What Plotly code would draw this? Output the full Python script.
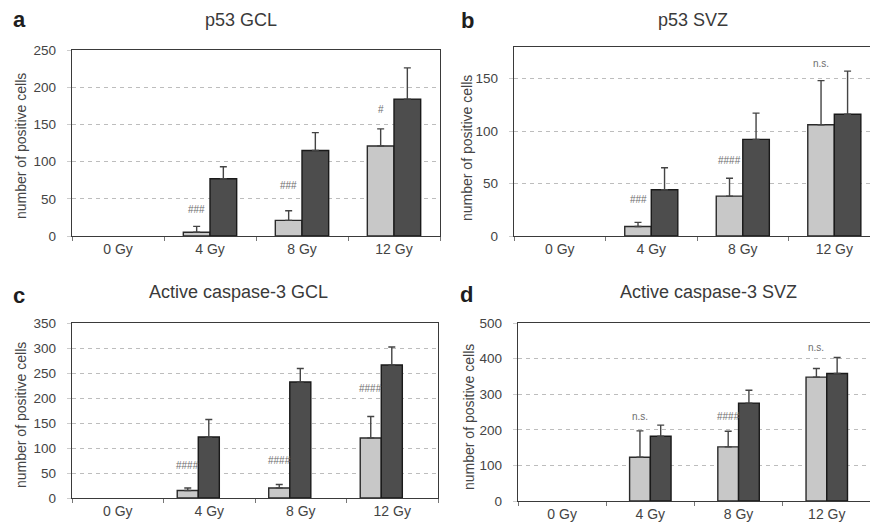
import plotly.graph_objects as go

categories = ["0 Gy", "4 Gy", "8 Gy", "12 Gy"]

# panel a: p53 GCL
a_light = [0, 5, 21, 121]
a_light_top = [0, 13, 34, 144]
a_dark = [0, 77, 115, 184]
a_dark_top = [0, 93, 139, 226]
a_marks = ["", "###", "###", "#"]
a_mark_y = [0, 35, 68, 170]

# panel b: p53 SVZ
b_light = [0, 9, 38, 106]
b_light_top = [0, 13, 55, 148]
b_dark = [0, 44, 92, 116]
b_dark_top = [0, 65, 117, 157]
b_marks = ["", "###", "####", "n.s."]
b_mark_y = [0, 35, 72, 164]

# panel c: Active caspase-3 GCL
c_light = [0, 15, 20, 120]
c_light_top = [0, 20, 27, 163]
c_dark = [0, 122, 232, 266]
c_dark_top = [0, 157, 259, 302]
c_marks = ["", "####", "####", "####"]
c_mark_y = [0, 66, 76, 220]

# panel d: Active caspase-3 SVZ
d_light = [0, 123, 152, 348]
d_light_top = [0, 197, 196, 372]
d_dark = [0, 182, 275, 358]
d_dark_top = [0, 213, 311, 403]
d_marks = ["", "n.s.", "####", "n.s."]
d_mark_y = [0, 237, 237, 432]

titles = ["p53 GCL", "p53 SVZ", "Active caspase-3 GCL", "Active caspase-3 SVZ"]
letters = ["a", "b", "c", "d"]
y_ranges = [[0, 250], [0, 180], [0, 350], [0, 500]]
y_dticks = [50, 50, 50, 100]
y_title = "number of positive cells"

W, H = 870, 530
# layout in pixels: left, right, top, bottom of plot frames
boxes = [(72, 440, 50, 236), (514, 870, 47, 236), (72, 438, 323, 498), (518, 870, 323, 501)]
x_ranges = [[-0.5, 3.5], [-0.5, 3.39], [-0.5, 3.5], [-0.5, 3.49]]
bar_width = [0.29, 0.29, 0.23, 0.235]
bar_offsets = [(-0.29, 0.0), (-0.29, 0.0), (-0.35, -0.12), (-0.235, 0.0)]
title_pos = [(241, 20), (693, 20), (239, 292), (708, 292)]
letter_pos = [(19, 20), (468, 21), (19, 295), (466, 294)]
ytitle_pos = [(21, 146), (467, 148), (21, 415), (469, 417)]

panels = [
    (a_light, a_light_top, a_dark, a_dark_top, a_marks, a_mark_y),
    (b_light, b_light_top, b_dark, b_dark_top, b_marks, b_mark_y),
    (c_light, c_light_top, c_dark, c_dark_top, c_marks, c_mark_y),
    (d_light, d_light_top, d_dark, d_dark_top, d_marks, d_mark_y),
]


def px_x(v):
    return v / W


def px_y(v):
    return 1 - v / H


FONT = "Liberation Sans, Arial, sans-serif"
fig = go.Figure()
layout = {}
annotations = []

for i, (light, ltop, dark, dtop, marks, marky) in enumerate(panels):
    n = i + 1
    xa = "x" if n == 1 else f"x{n}"
    ya = "y" if n == 1 else f"y{n}"
    xkey = "xaxis" if n == 1 else f"xaxis{n}"
    ykey = "yaxis" if n == 1 else f"yaxis{n}"
    ly_ = [v if v > 0 else None for v in light]
    dy_ = [v if v > 0 else None for v in dark]
    lerr = [(t - v) if v > 0 else None for t, v in zip(ltop, light)]
    derr = [(t - v) if v > 0 else None for t, v in zip(dtop, dark)]
    bw = bar_width[i]
    lo, do = bar_offsets[i]
    fig.add_trace(go.Bar(
        x=categories, y=ly_, xaxis=xa, yaxis=ya, showlegend=False,
        width=bw, offset=lo,
        marker=dict(color="#c8c8c8", line=dict(color="#2a2a2a", width=1.4)),
        error_y=dict(type="data", array=lerr, arrayminus=[0] * 4, symmetric=False,
                     color="#444444", thickness=1.4, width=3.5),
    ))
    fig.add_trace(go.Bar(
        x=categories, y=dy_, xaxis=xa, yaxis=ya, showlegend=False,
        width=bw, offset=do,
        marker=dict(color="#4d4d4d", line=dict(color="#1a1a1a", width=1.4)),
        error_y=dict(type="data", array=derr, arrayminus=[0] * 4, symmetric=False,
                     color="#444444", thickness=1.4, width=3.5),
    ))
    l, r, t, b = boxes[i]
    layout[xkey] = dict(
        domain=[px_x(l), px_x(r)], anchor=ya, type="category", automargin=False,
        categoryorder="array", categoryarray=categories, range=x_ranges[i],
        showline=True, linecolor="#3a3a3a", linewidth=1.4, mirror=True,
        ticks="outside", tickson="boundaries", ticklen=4, tickcolor="#777777",
        tickfont=dict(size=14, color="#444444", family=FONT),
        showgrid=False, fixedrange=True,
    )
    layout[ykey] = dict(
        domain=[px_y(b), px_y(t)], anchor=xa, range=y_ranges[i], automargin=False,
        dtick=y_dticks[i], tick0=0,
        showline=True, linecolor="#3a3a3a", linewidth=1.4, mirror=True,
        ticks="outside", ticklen=4, tickcolor="#cccccc", ticklabelstandoff=8,
        tickfont=dict(size=13.5, color="#444444", family=FONT),
        showgrid=True, gridcolor="#bdbdbd", griddash="4px,4px", gridwidth=1,
        zeroline=False, fixedrange=True,
    )
    for k, (m, my) in enumerate(zip(marks, marky)):
        if m:
            annotations.append(dict(
                x=k + lo + bw / 2, y=my, xref=xa, yref=ya, text=m, showarrow=False,
                font=dict(size=10, color="#6e6e6e", family=FONT),
                xanchor="center", yanchor="middle",
            ))
    tx, ty = title_pos[i]
    annotations.append(dict(x=px_x(tx), y=px_y(ty), xref="paper", yref="paper",
                            text=titles[i], showarrow=False,
                            font=dict(size=18, color="#3a3a3a", family=FONT),
                            xanchor="center", yanchor="middle"))
    lx, lyy = letter_pos[i]
    annotations.append(dict(x=px_x(lx), y=px_y(lyy), xref="paper", yref="paper",
                            text=f"<b>{letters[i]}</b>", showarrow=False,
                            font=dict(size=22, color="#1e1e1e", family=FONT),
                            xanchor="center", yanchor="middle"))
    yx, yy = ytitle_pos[i]
    annotations.append(dict(x=px_x(yx), y=px_y(yy), xref="paper", yref="paper",
                            text=y_title, showarrow=False, textangle=-90,
                            font=dict(size=14, color="#444444", family=FONT),
                            xanchor="center", yanchor="middle"))

fig.update_layout(
    width=W, height=H, margin=dict(l=0, r=0, t=0, b=0, autoexpand=False),
    paper_bgcolor="white", plot_bgcolor="white",
    barmode="overlay", hovermode=False,
    annotations=annotations, **layout,
)
fig.write_html("out.html", config={"displayModeBar": False},
               post_script="document.body.style.margin='0';")
